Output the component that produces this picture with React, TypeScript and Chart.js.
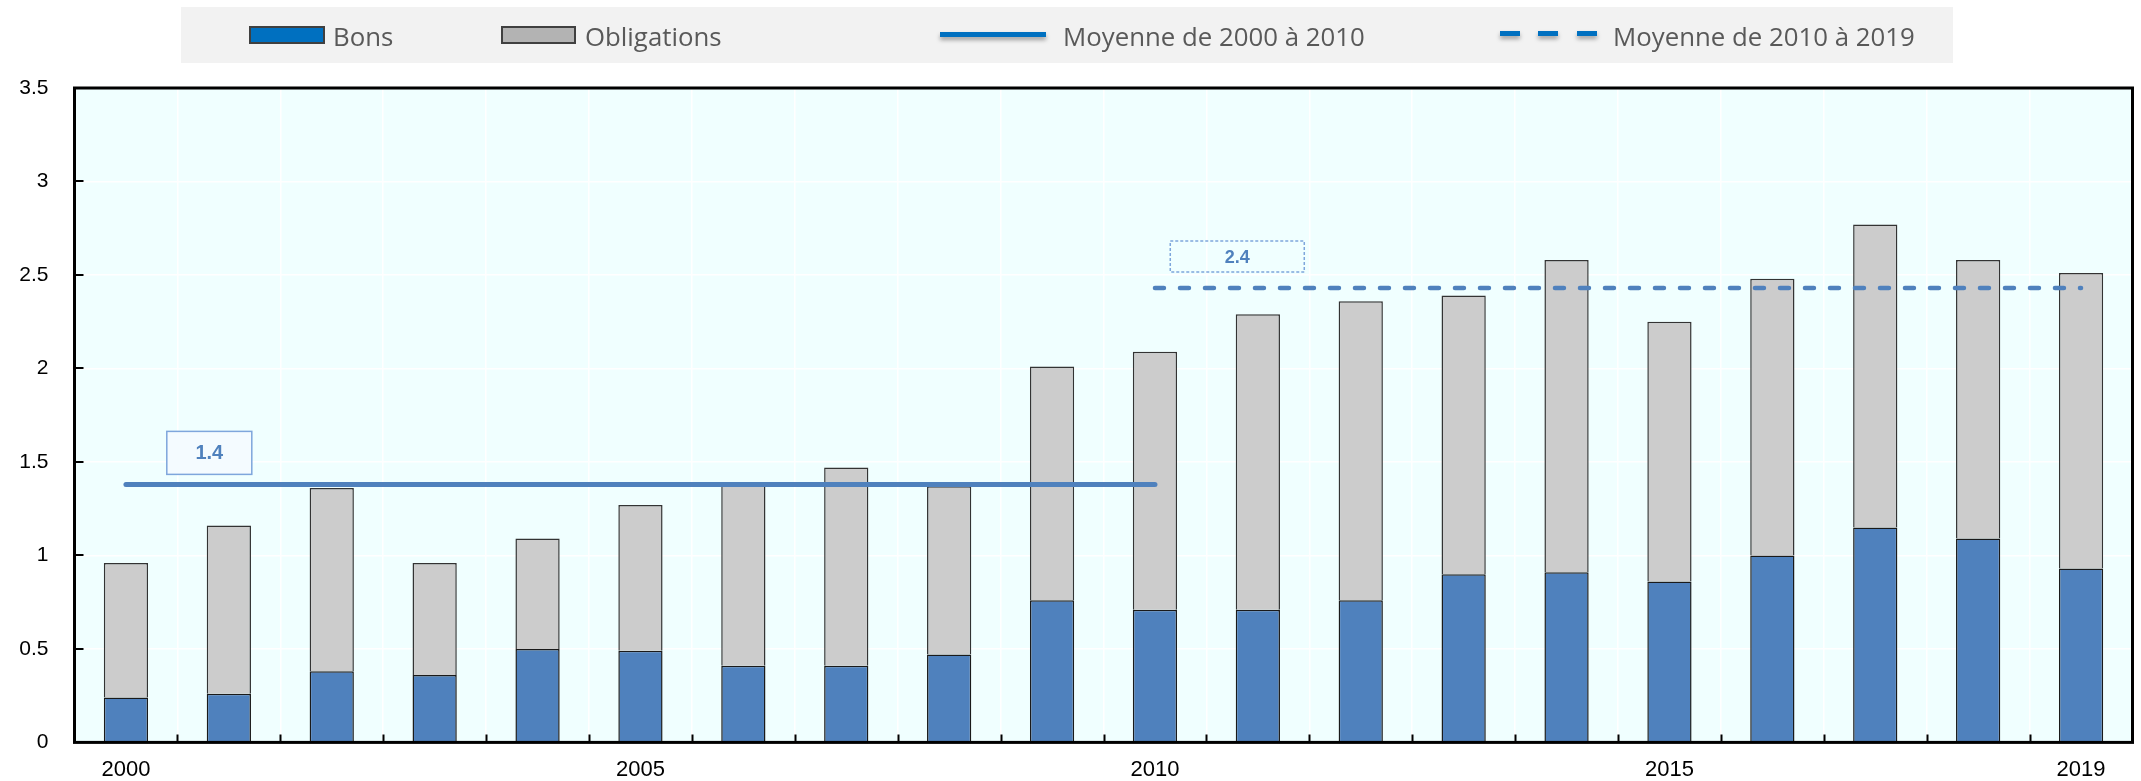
import React, { useEffect, useRef } from "react";
import { Chart, registerables } from "chart.js";

Chart.register(...registerables);

const years = [
  "2000", "2001", "2002", "2003", "2004", "2005", "2006", "2007", "2008", "2009",
  "2010", "2011", "2012", "2013", "2014", "2015", "2016", "2017", "2018", "2019",
];
const shownYearLabels = ["2000", "2005", "2010", "2015", "2019"];

const bons = [
  0.24, 0.26, 0.38, 0.36, 0.5, 0.49, 0.41, 0.41, 0.47, 0.76,
  0.71, 0.71, 0.76, 0.9, 0.91, 0.86, 1.0, 1.15, 1.09, 0.93,
];
const obligations = [
  0.72, 0.9, 0.98, 0.6, 0.59, 0.78, 0.98, 1.06, 0.9, 1.25,
  1.38, 1.58, 1.6, 1.49, 1.67, 1.39, 1.48, 1.62, 1.49, 1.58,
];
const moyenne2000a2010 = [
  1.38, 1.38, 1.38, 1.38, 1.38, 1.38, 1.38, 1.38, 1.38, 1.38,
  1.38, null, null, null, null, null, null, null, null, null,
];
const moyenne2010a2019 = [
  null, null, null, null, null, null, null, null, null, null,
  2.43, 2.43, 2.43, 2.43, 2.43, 2.43, 2.43, 2.43, 2.43, 2.43,
];
const yTicks = [0, 0.5, 1, 1.5, 2, 2.5, 3, 3.5];
const avgLabels = ["1.4", "2.4"];
const legendLabels = ["Bons", "Obligations", "Moyenne de 2000 à 2010", "Moyenne de 2010 à 2019"];

const W = 2141;
const H = 781;

const decorPlugin = {
  id: "decor",
  beforeDraw(chart: any) {
    const { ctx, chartArea: a } = chart;
    ctx.save();
    ctx.fillStyle = "#f0ffff";
    ctx.fillRect(a.left, a.top, a.right - a.left, a.bottom - a.top);
    ctx.restore();
  },
  afterDraw(chart: any) {
    const { ctx, chartArea: a } = chart;
    const xs = chart.scales.x;
    const ys = chart.scales.y;
    const cat = (a.right - a.left) / years.length;
    ctx.save();
    // inward ticks
    ctx.strokeStyle = "#000";
    ctx.lineWidth = 2;
    ctx.beginPath();
    for (let i = 1; i < years.length; i++) {
      const x = Math.round(a.left + i * cat) + 0.5;
      ctx.moveTo(x, a.bottom);
      ctx.lineTo(x, a.bottom - 8);
    }
    yTicks.forEach((v) => {
      if (v === 0 || v === 3.5) return;
      const y = Math.round(ys.getPixelForValue(v));
      ctx.moveTo(a.left, y);
      ctx.lineTo(a.left + 9, y);
    });
    ctx.stroke();
    // frame
    ctx.lineWidth = 3;
    ctx.strokeStyle = "#000";
    ctx.strokeRect(a.left, a.top, a.right - a.left, a.bottom - a.top);

    // annotation boxes
    const boxColor = "#4f81bd";
    {
      const cx = xs.getPixelForValue(0) + 0.81 * cat;
      const ly = ys.getPixelForValue(moyenne2000a2010[0] as number);
      const bw = 85, bh = 43;
      const by = ly - 10 - bh;
      ctx.fillStyle = "#f4fbff";
      ctx.fillRect(cx - bw / 2, by, bw, bh);
      ctx.strokeStyle = "#7ea6dc";
      ctx.lineWidth = 1.5;
      ctx.setLineDash([]);
      ctx.strokeRect(cx - bw / 2, by, bw, bh);
      ctx.fillStyle = boxColor;
      ctx.font = "bold 20px 'Liberation Sans', Arial, sans-serif";
      ctx.textAlign = "center";
      ctx.textBaseline = "middle";
      ctx.fillText(avgLabels[0], cx, by + bh / 2 + 1);
    }
    {
      const cx = xs.getPixelForValue(10) + 0.8 * cat;
      const ly = ys.getPixelForValue(moyenne2010a2019[10] as number);
      const bw = 134, bh = 31;
      const by = ly - 16 - bh;
      ctx.strokeStyle = "#7ea6dc";
      ctx.lineWidth = 1.5;
      ctx.setLineDash([3, 2]);
      ctx.strokeRect(cx - bw / 2, by, bw, bh);
      ctx.setLineDash([]);
      ctx.fillStyle = boxColor;
      ctx.font = "bold 18px 'Liberation Sans', Arial, sans-serif";
      ctx.textAlign = "center";
      ctx.textBaseline = "middle";
      ctx.fillText(avgLabels[1], cx, by + bh / 2 + 1);
    }

    // legend
    ctx.fillStyle = "#f2f2f2";
    ctx.fillRect(181, 7, 1953 - 181, 56);
    ctx.font = "25.8px 'Open Sans', 'Noto Sans', sans-serif";
    ctx.textAlign = "left";
    ctx.textBaseline = "alphabetic";
    const baseY = 45.5;
    ctx.fillStyle = "#0070c0";
    ctx.fillRect(250, 27, 74, 16);
    ctx.strokeStyle = "#404040";
    ctx.lineWidth = 2;
    ctx.strokeRect(250, 27, 74, 16);
    ctx.fillStyle = "#595959";
    ctx.fillText(legendLabels[0], 333, baseY);
    ctx.fillStyle = "#b3b3b3";
    ctx.fillRect(502, 27, 73, 16);
    ctx.strokeRect(502, 27, 73, 16);
    ctx.fillStyle = "#595959";
    ctx.fillText(legendLabels[1], 585, baseY);
    ctx.save();
    ctx.shadowColor = "rgba(0,0,0,0.35)";
    ctx.shadowBlur = 4;
    ctx.shadowOffsetY = 3;
    ctx.fillStyle = "#0070c0";
    ctx.fillRect(940, 32, 106, 5);
    ctx.fillRect(1500, 31, 20, 5);
    ctx.fillRect(1538, 31, 20, 5);
    ctx.fillRect(1577, 31, 20, 5);
    ctx.restore();
    ctx.fillStyle = "#595959";
    ctx.fillText(legendLabels[2], 1063, baseY);
    ctx.fillText(legendLabels[3], 1613, baseY);
    ctx.restore();
  },
};

export default function App() {
  const ref = useRef<HTMLCanvasElement | null>(null);
  useEffect(() => {
    document.body.style.margin = "0";
    const canvas = ref.current;
    if (!canvas) return;
    const chart = new Chart(canvas, {
      type: "bar",
      data: {
        labels: years,
        datasets: [
          {
            type: "line",
            label: legendLabels[2],
            data: moyenne2000a2010,
            borderColor: "#4f81bd",
            borderWidth: 5,
            borderCapStyle: "round",
            pointRadius: 0,
            fill: false,
            stack: "avg1",
            order: 0,
          } as any,
          {
            type: "line",
            label: legendLabels[3],
            data: moyenne2010a2019,
            borderColor: "#4f81bd",
            borderWidth: 4.5,
            borderDash: [9, 16],
            borderCapStyle: "round",
            pointRadius: 0,
            fill: false,
            stack: "avg2",
            order: 0,
          } as any,
          {
            label: legendLabels[0],
            data: bons,
            backgroundColor: "#4f81bd",
            borderColor: "#1a1a1a",
            borderWidth: 1.5,
            stack: "bars",
            order: 1,
          },
          {
            label: legendLabels[1],
            data: obligations,
            backgroundColor: "#cccccc",
            borderColor: "#333333",
            borderWidth: 1.5,
            stack: "bars",
            order: 1,
          },
        ],
      },
      options: {
        responsive: false,
        animation: false,
        devicePixelRatio: 1,
        layout: { padding: { top: 88, right: 8.5, left: 0, bottom: 0 } },
        datasets: { bar: { categoryPercentage: 1, barPercentage: 0.43 } },
        plugins: { legend: { display: false }, tooltip: { enabled: false } },
        scales: {
          x: {
            stacked: true,
            offset: true,
            grid: { color: "#ffffff", lineWidth: 1.5, drawTicks: false, offset: true },
            border: { display: false },
            ticks: {
              autoSkip: false,
              maxRotation: 0,
              padding: 14,
              color: "#000",
              font: { family: "'Liberation Sans', Arial, sans-serif", size: 22 },
              callback: (_v: any, i: number) => (shownYearLabels.includes(years[i]) ? years[i] : ""),
            },
            afterFit: (s: any) => {
              s.height = 37.5;
            },
          },
          y: {
            stacked: true,
            min: 0,
            max: 3.5,
            grid: { color: "#ffffff", lineWidth: 1.5, drawTicks: false },
            border: { display: false },
            afterBuildTicks: (s: any) => {
              s.ticks = yTicks.map((v) => ({ value: v }));
            },
            ticks: {
              padding: 26,
              color: "#000",
              font: { family: "'Liberation Sans', Arial, sans-serif", size: 21 },
              callback: (v: any) => String(v),
            },
            afterFit: (s: any) => {
              s.width = 74.5;
            },
          },
        },
      },
      plugins: [decorPlugin],
    });
    return () => chart.destroy();
  }, []);
  return (
    <div style={{ width: W, height: H, background: "#fff" }}>
      <canvas ref={ref} width={W} height={H} style={{ display: "block", width: W, height: H }} />
    </div>
  );
}
